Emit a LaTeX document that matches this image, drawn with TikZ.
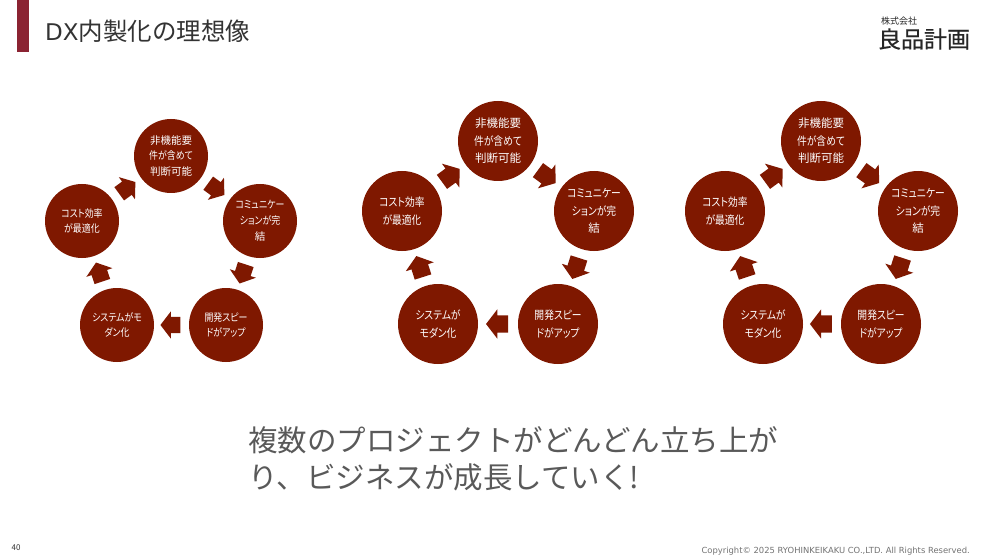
\documentclass[tikz,border=0pt]{standalone}
\usepackage{fontspec}
\setmainfont{Noto Sans CJK JP}
\newfontfamily\circlefont[RawFeature=+palt]{Noto Sans CJK JP}
\newfontfamily\kanafont[RawFeature=+palt,FakeStretch=0.85]{Noto Sans CJK JP}
\newfontfamily\logofont[FakeBold=0.6]{Noto Sans CJK JP}
\newfontfamily\footfont{DejaVu Sans}
\newcommand{\kn}[1]{{\kanafont #1}}
\usetikzlibrary{shapes.arrows}
\definecolor{circlered}{HTML}{7F1800}
\definecolor{barred}{HTML}{8B2332}
\tikzset{
  smallcircle/.style={circle,fill=circlered,text=white,minimum size=74pt,inner sep=0pt,align=center,font=\circlefont\fontsize{10.5}{15.8}\selectfont},
  bigcircle/.style={circle,fill=circlered,text=white,minimum size=80pt,inner sep=0pt,align=center,font=\circlefont\fontsize{11.5}{17.5}\selectfont},
  smallarrow/.style={single arrow,fill=circlered,minimum height=20pt,inner xsep=0pt,inner ysep=8pt,single arrow head extend=5.5pt,single arrow tip angle=105,sloped,allow upside down,pos=0.44},
  bigarrow/.style={single arrow,fill=circlered,minimum height=22pt,inner xsep=0pt,inner ysep=8.5pt,single arrow head extend=6pt,single arrow tip angle=105,sloped,allow upside down,pos=0.44},
}
\begin{document}
\begin{tikzpicture}[x=1pt,y=-1pt]
\path[use as bounding box,fill=white] (0,0) rectangle (995,556);
\fill[barred] (17,0) rectangle (29,52);
\node[anchor=west,text=black!80,font=\fontsize{24.5}{28}\selectfont,inner sep=0pt] (title) at (45,31) {{\footfont\fontsize{23}{28}\selectfont DX}内製化の理想像};
\node[text=black!85,font=\fontsize{9}{10}\selectfont,inner sep=0pt] (company) at (899,21) {株式会社};
\node[text=black!85,font=\logofont\fontsize{23}{26}\selectfont,inner sep=0pt] (brand) at (924,39) {良品計画};

% left group
\node[smallcircle] (topa) at (171,156) {非機能要\\\kn{件が含めて}\\判断可能};
\node[smallcircle] (righta) at (260,221) {\kn{コミュニケー}\\\kn{ションが完}\\結};
\node[smallcircle] (lowra) at (226,325) {\kn{開発スピー}\\\kn{ドがアップ}};
\node[smallcircle] (lowla) at (117,325) {\kn{システムがモ}\\\kn{ダン化}};
\node[smallcircle] (lefta) at (82,221) {\kn{コスト効率}\\\kn{が最適化}};
\path (topa) -- node[smallarrow] (arra) {} (righta);
\path (righta) -- node[smallarrow] (arrb) {} (lowra);
\path (lowra) -- node[smallarrow] (arrc) {} (lowla);
\path (lowla) -- node[smallarrow] (arrd) {} (lefta);
\path (lefta) -- node[smallarrow] (arre) {} (topa);

% middle group
\node[bigcircle] (topb) at (498,141) {非機能要\\\kn{件が含めて}\\判断可能};
\node[bigcircle] (rightb) at (594,211) {\kn{コミュニケー}\\\kn{ションが完}\\結};
\node[bigcircle] (lowrb) at (558,324) {\kn{開発スピー}\\\kn{ドがアップ}};
\node[bigcircle] (lowlb) at (438,324) {\kn{システムが}\\\kn{モダン化}};
\node[bigcircle] (leftb) at (402,211) {\kn{コスト効率}\\\kn{が最適化}};
\path (topb) -- node[bigarrow] (arrf) {} (rightb);
\path (rightb) -- node[bigarrow] (arrg) {} (lowrb);
\path (lowrb) -- node[bigarrow] (arrh) {} (lowlb);
\path (lowlb) -- node[bigarrow] (arri) {} (leftb);
\path (leftb) -- node[bigarrow] (arrj) {} (topb);

% right group
\node[bigcircle] (topc) at (821,141) {非機能要\\\kn{件が含めて}\\判断可能};
\node[bigcircle] (rightc) at (918,211) {\kn{コミュニケー}\\\kn{ションが完}\\結};
\node[bigcircle] (lowrc) at (881,324) {\kn{開発スピー}\\\kn{ドがアップ}};
\node[bigcircle] (lowlc) at (763,324) {\kn{システムが}\\\kn{モダン化}};
\node[bigcircle] (leftc) at (725,211) {\kn{コスト効率}\\\kn{が最適化}};
\path (topc) -- node[bigarrow] (arrk) {} (rightc);
\path (rightc) -- node[bigarrow] (arrl) {} (lowrc);
\path (lowrc) -- node[bigarrow] (arrm) {} (lowlc);
\path (lowlc) -- node[bigarrow] (arrn) {} (leftc);
\path (leftc) -- node[bigarrow] (arro) {} (topc);

\node[anchor=west,align=left,text=black!65,font=\fontsize{29.5}{37}\selectfont,inner sep=0pt] (message) at (248,459) {複数のプロジェクトがどんどん立ち上が\\り、ビジネスが成長していく!};
\node[text=black!80,font=\fontsize{8}{9}\selectfont,inner sep=0pt] (pageno) at (16,548) {40};
\node[anchor=east,text=black!55,font=\footfont\fontsize{8.4}{9}\selectfont,inner sep=0pt] (copyright) at (970,551) {Copyright© 2025 RYOHINKEIKAKU CO.,LTD. All Rights Reserved.};
\end{tikzpicture}
\end{document}
